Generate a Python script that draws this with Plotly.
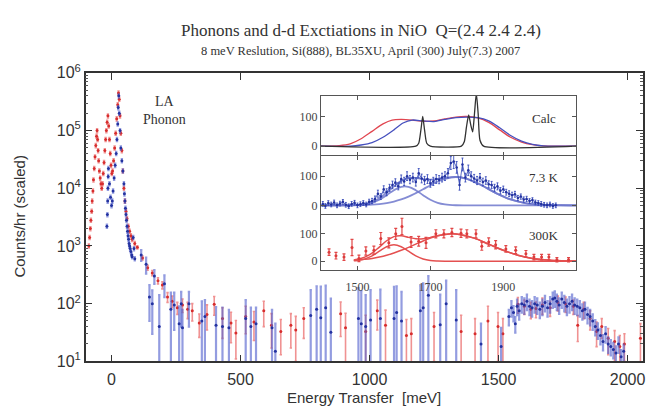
import plotly.graph_objects as go

# ---------------- main panel data (Energy transfer in meV, counts/hr) ----------------
red_peak_E = [-88,-85,-82,-80,-77,-75,-72,-70,-67,-64,-61,-58,-56,-54,-52,-50,-47,-44,-41,-38,-35,-32,-29,-26,-23,-20,-17,-14,-11,-8,-5,-2,1,4,8,12,16,20,24,27,30,33,36,40,44,48,52,56,60,65,70,75,80,90]
red_peak_I = [1000,1400,2000,2800,4000,6000,9000,14000,22000,35000,55000,80000,100000,70000,45000,30000,20000,15000,12000,10000,12000,18000,28000,45000,70000,100000,140000,180000,120000,70000,40000,25000,18000,20000,30000,50000,90000,160000,280000,450000,350000,180000,90000,45000,20000,10000,6000,4000,3000,2200,1800,1500,1300,1100]

red_tail_E = [100,120,140,158,180,197,217,235,255,275,295,313,340,370,398,430,463,482,520,552,590,620,656,695,714,745,888,907,985,1030,1062,1143,1162,1250,1355,1409,1459,1498,1517,1575,1600,1625,1645,1670,1700,1730,1760,1790,1807,1830,1855,1880,1900,1925,1950,1970,1988,2050]
red_tail_I = [950,620,420,340,250,210,130,110,85,95,80,75,46,65,98,55,46,31,60,48,75,42,33,42,35,55,67,38,33,75,42,28,30,40,33,30,50,40,30,98,90,80,82,95,85,105,100,90,42,80,55,33,40,25,22,18,20,25]
red_tail_err = [60,50,40,35,30,30,25,25,20,25,25,25,20,30,35,30,25,20,30,25,35,25,20,25,25,30,40,30,30,40,35,25,25,30,30,25,40,30,25,30,25,25,25,30,25,30,30,25,20,25,20,15,15,12,12,10,10,20]

blue_peak_E = [-18,-16,-15,-14,-13,-12,-8,-4,0,3,6,10,14,18,21,24,26,28,30,33,36,40,44,48,50,52,54,56,58,60,62,64,66,68,70,72,75,78,80,84,87,90]
blue_peak_I = [2200,3500,6000,10000,16000,22000,12000,7000,5000,6000,9000,15000,25000,40000,70000,130000,250000,400000,200000,100000,50000,30000,20000,12000,8000,6000,4500,3500,2800,2200,1800,1500,1300,1100,1000,900,800,700,650,1400,900,600]

blue_tail_E = [115,134,147,158,166,185,205,230,243,262,270,275,300,350,362,405,430,455,520,540,560,622,635,772,795,811,830,850,957,968,985,1004,1042,1095,1105,1124,1197,1208,1228,1274,1297,1336,1432,1510]
blue_tail_I = [700,480,130,100,300,40,220,80,95,45,100,38,100,50,60,42,40,38,55,40,45,38,15,62,80,57,85,32,55,45,40,52,55,55,70,50,75,85,140,43,100,52,20,18]
blue_tail_err = [150,150,80,70,80,100,90,75,60,45,60,40,60,60,55,45,45,40,60,45,40,40,30,110,120,140,120,90,130,120,100,120,120,140,130,110,130,140,160,100,150,120,25,20]

blue_hump_E = [1540,1550,1558,1565,1572,1580,1590,1600,1610,1620,1630,1640,1650,1660,1670,1680,1690,1700,1710,1718,1726,1735,1745,1755,1765,1775,1785,1795,1805,1815,1825,1835,1845,1855,1865,1875,1885,1895,1905,1915,1925,1935,1945,1955,1965,1975,1985]
blue_hump_I = [60,85,70,45,90,75,100,95,110,90,85,100,95,80,90,105,85,100,120,125,110,95,120,105,90,100,110,95,90,85,75,80,65,60,50,40,35,28,22,30,20,18,16,14,20,12,15]

main_xticks = [0, 500, 1000, 1500, 2000]
main_yticks = [10, 100, 1000, 10000, 100000, 1000000]
main_yticktext = ["10<sup>1</sup>", "10<sup>2</sup>", "10<sup>3</sup>", "10<sup>4</sup>", "10<sup>5</sup>", "10<sup>6</sup>"]

# ---------------- inset data ----------------
calc_red_E = [1400,1450,1480,1510,1540,1570,1595,1620,1650,1680,1710,1740,1770,1800,1830,1860,1890,1920,1950,1980,2010,2050,2100]
calc_red_I = [0,2,8,25,50,75,88,90,88,84,85,92,98,100,95,80,55,30,14,5,1,0,0]
calc_blue_E = [1400,1480,1510,1540,1570,1600,1625,1650,1680,1710,1740,1770,1800,1830,1860,1890,1920,1950,1980,2010,2050,2100]
calc_blue_I = [0,0,4,12,30,55,78,88,85,83,90,96,98,96,85,62,36,17,6,1,0,0]
calc_black_E = [1400,1660,1668,1674,1679,1684,1690,1700,1785,1793,1799,1805,1811,1816,1821,1826,1831,1836,1846,2100]
calc_black_I = [0,0,10,55,100,55,10,0,0,15,65,105,70,48,110,178,110,20,0,0]

k7_E = [1405,1412,1420,1428,1436,1444,1452,1460,1468,1476,
        1484,1492,1500,1508,1516,1524,1532,1540,1548,1556,
        1564,1572,1580,1588,1596,1604,1612,1620,1628,1636,
        1644,1652,1660,1668,1676,1684,1692,1700,1708,1716,
        1724,1732,1740,1748,1756,1764,1772,1780,1788,1796,
        1804,1812,1820,1828,1836,1844,1852,1860,1868,1876,
        1884,1892,1900,1908,1916,1924,1932,1940,1948,1956,
        1964,1972,1980,1988,1996,2004,2012,2020,2028,2036,2044]
k7_I = [5,-2,8,3,10,0,6,12,2,-3,
        5,9,0,4,8,3,12,15,22,40,
        30,55,45,60,70,78,65,90,82,100,
        88,95,80,110,92,85,90,75,82,90,
        88,95,100,110,145,150,130,70,140,95,
        120,100,92,85,95,80,85,72,70,60,
        65,50,55,45,40,35,38,25,30,20,
        22,15,18,10,8,5,2,0,3,-2,0]
k7_err = [8,8,8,8,8,8,8,8,8,8,
          8,8,8,8,8,8,9,9,10,12,
          10,12,12,12,13,13,12,14,14,15,
          14,15,14,16,15,14,15,13,14,15,
          14,15,15,16,22,24,20,18,22,15,
          18,15,14,14,14,13,13,12,12,12,
          12,11,11,10,10,10,10,9,9,9,
          9,8,8,8,8,8,8,8,8,8,8]

fit73_E = [1400,1500,1520,1540,1560,1580,1600,1620,1640,1660,1680,1700,1720,1740,1770,1800,1840,1880,1920,1960,2000,2040,2100]
fit73_g1 = [0,1,3.3,8.8,19.4,35,52,63.4,63.4,52,35,19.4,8.8,3.3,0.4,0,0,0,0,0,0,0,0]
fit73_g2 = [0,0.6,1.3,2.5,4.6,8,13.1,20.4,30,42,55,69,81.6,91,97,91,69,42,20.4,8,2.5,0.6,0]

k300_E = [1422,1441,1463,1485,1504,1523,1545,1564,1586,1605,1622,1647,1668,1688,1715,1737,1759,1784,1800,1825,1841,1860,1879,1907,1934,1962,1984,2005,2025,2047,2079]
k300_I = [33,20,15,50,10,37,40,83,67,100,127,70,73,67,100,100,105,102,100,100,55,70,60,45,40,27,15,15,15,5,5]
k300_err = [12,12,12,30,12,15,15,22,18,20,30,20,18,20,15,15,15,15,15,15,15,15,15,12,12,12,10,10,10,8,8]

fit300_E = [1490,1500,1520,1540,1560,1580,1600,1620,1640,1660,1680,1700,1720,1740,1760,1780,1820,1860,1900,1940,1980,2020,2060,2100]
fit300_g1 = [1.4,2.6,8.1,19.5,36.4,53,60,53,36.4,19.5,8.1,2.6,0.7,0,0,0,0,0,0,0,0,0,0,0]
fit300_g2 = [3.2,4.1,6.6,10.2,15.2,21.7,29.9,39.7,50.7,62.4,74,84.4,92.7,98,100,98,84.4,62.4,39.7,21.7,10.2,4.1,1.4,0.5]

inset_xticks = [1500, 1700, 1900]
inset_yticks = [0, 100]

# ---------------- styling ----------------
W, H = 649, 416
RED_PT = "rgb(215,45,45)"
RED_BAR = "rgba(235,110,110,0.75)"
BLUE_PT = "rgb(35,50,160)"
BLUE_BAR = "rgba(80,95,205,0.62)"
SANS = "Liberation Sans, Arial, sans-serif"
SERIF = "Liberation Serif, Times New Roman, serif"


def px_x(p):
    return p / W


def px_y(p):
    return 1 - p / H


fig = go.Figure()


def main_trace(E, I, color, barcolor, err=None, pct=None, thick=1.5):
    if err is not None:
        ey = dict(type="data", array=err, arrayminus=list(err), color=barcolor, thickness=thick, width=1.2)
    else:
        ey = dict(type="percent", value=pct, color=barcolor, thickness=thick, width=1.2)
    fig.add_trace(go.Scatter(x=E, y=I, mode="markers", xaxis="x", yaxis="y",
                             marker=dict(color=color, size=3), error_y=ey,
                             showlegend=False, hoverinfo="skip"))


main_trace(red_peak_E, red_peak_I, RED_PT, RED_BAR, pct=8)
main_trace(red_tail_E, red_tail_I, RED_PT, RED_BAR, err=red_tail_err, thick=1.6)
main_trace(blue_peak_E, blue_peak_I, BLUE_PT, BLUE_BAR, pct=8)
main_trace(blue_tail_E, blue_tail_I, BLUE_PT, BLUE_BAR, err=blue_tail_err, thick=2.2)
main_trace(blue_hump_E, blue_hump_I, BLUE_PT, BLUE_BAR, pct=30, thick=2.2)

# ---- inset: Calc ----
fig.add_trace(go.Scatter(x=calc_red_E, y=calc_red_I, mode="lines", xaxis="x2", yaxis="y2",
                         line=dict(color="rgb(225,70,80)", width=1.3, shape="spline", smoothing=0.8),
                         showlegend=False, hoverinfo="skip"))
fig.add_trace(go.Scatter(x=calc_blue_E, y=calc_blue_I, mode="lines", xaxis="x2", yaxis="y2",
                         line=dict(color="rgb(70,80,190)", width=1.3, shape="spline", smoothing=0.8),
                         showlegend=False, hoverinfo="skip"))
fig.add_trace(go.Scatter(x=calc_black_E, y=calc_black_I, mode="lines", xaxis="x2", yaxis="y2",
                         line=dict(color="rgb(50,50,50)", width=1.3, shape="spline", smoothing=0.6),
                         showlegend=False, hoverinfo="skip"))

# ---- inset: 7.3 K ----
fit73_sum = [a + b for a, b in zip(fit73_g1, fit73_g2)]
for ys in (fit73_g1, fit73_g2, fit73_sum):
    fig.add_trace(go.Scatter(x=fit73_E, y=ys, mode="lines", xaxis="x3", yaxis="y3",
                             line=dict(color="rgba(110,120,205,0.85)", width=1.8, shape="spline"),
                             showlegend=False, hoverinfo="skip"))
fig.add_trace(go.Scatter(x=k7_E, y=k7_I, mode="lines+markers", xaxis="x3", yaxis="y3",
                         line=dict(color="rgba(50,70,180,0.8)", width=1),
                         marker=dict(color=BLUE_PT, size=2.5),
                         error_y=dict(type="data", array=k7_err, color="rgba(50,70,185,0.85)", thickness=1, width=1),
                         showlegend=False, hoverinfo="skip"))

# ---- inset: 300 K ----
fit300_sum = [a + b for a, b in zip(fit300_g1, fit300_g2)]
for ys in (fit300_g1, fit300_g2, fit300_sum):
    fig.add_trace(go.Scatter(x=fit300_E, y=ys, mode="lines", xaxis="x4", yaxis="y4",
                             line=dict(color="rgb(228,80,80)", width=1.5, shape="spline"),
                             showlegend=False, hoverinfo="skip"))
fig.add_trace(go.Scatter(x=k300_E, y=k300_I, mode="markers", xaxis="x4", yaxis="y4",
                         marker=dict(color="rgb(220,60,60)", size=3),
                         error_y=dict(type="data", array=k300_err, color="rgb(225,70,70)", thickness=1.2, width=1.5),
                         showlegend=False, hoverinfo="skip"))

# ---------------- layout ----------------
AX_MAIN = dict(showline=True, linecolor="#333", linewidth=1.5, mirror="ticks", ticks="inside",
               ticklen=7, tickcolor="#333", showgrid=False, zeroline=False)
AX_IN = dict(showline=True, linecolor="#555", linewidth=1, mirror="ticks", ticks="inside",
             ticklen=4, tickcolor="#555", showgrid=False, zeroline=False)

inset_x = [px_x(322), px_x(578)]
panels = [(89, 152), (152, 214), (214, 272)]

layout = dict(
    width=W, height=H, autosize=False,
    margin=dict(l=0, r=0, t=0, b=0),
    paper_bgcolor="white", plot_bgcolor="white",
    showlegend=False,
    xaxis=dict(AX_MAIN, domain=[px_x(86), px_x(645)], range=[-100, 2060], anchor="y",
               tickvals=main_xticks, tickfont=dict(family=SANS, size=16, color="#333"),
               ticklabelstandoff=3),
    yaxis=dict(AX_MAIN, domain=[px_y(368), px_y(65)], type="log", range=[1, 6], anchor="x",
               tickvals=main_yticks, ticktext=main_yticktext,
               tickfont=dict(family=SANS, size=16, color="#333"),
               minor=dict(ticks="inside", ticklen=3, tickcolor="#555",
                          tickvals=[m * 10 ** k for k in range(1, 6) for m in range(2, 10)])),
)
for i, (top, bot) in enumerate(panels):
    n = i + 2
    last = (n == 4)
    layout[f"xaxis{n}"] = dict(AX_IN, domain=inset_x, range=[1400, 2100], anchor=f"y{n}",
                               tickvals=inset_xticks, showticklabels=last,
                               tickfont=dict(family=SERIF, size=12, color="#444"),
                               ticklabelstandoff=6)
    layout[f"yaxis{n}"] = dict(AX_IN, domain=[px_y(bot), px_y(top)], range=[-32, 170], anchor=f"x{n}",
                               tickvals=inset_yticks, tickfont=dict(family=SERIF, size=12, color="#444"))

fig.update_layout(**layout)

# white background for the inset, drawn within inset subplots (covers main data)
for n in (2, 3, 4):
    fig.add_shape(type="rect", xref=f"x{n}", yref=f"y{n}", x0=1400, x1=2100, y0=-32, y1=170,
                  fillcolor="white", line=dict(width=0), layer="below")

ann = [
    dict(text="Phonons and d-d Exctiations in NiO\u00a0\u00a0Q=(2.4 2.4 2.4)", x=px_x(362), y=px_y(20),
         font=dict(family=SERIF, size=17, color="#333")),
    dict(text="8 meV Reslution, Si(888), BL35XU, April (300) July(7.3) 2007", x=px_x(362), y=px_y(42),
         font=dict(family=SERIF, size=12.5, color="#333")),
    dict(text="LA<br>Phonon", x=px_x(165), y=px_y(105),
         font=dict(family=SERIF, size=14, color="#333")),
    dict(text="Energy Transfer\u00a0\u00a0[meV]", x=px_x(365), y=px_y(406),
         font=dict(family=SANS, size=15, color="#333")),
    dict(text="Counts/hr (scaled)", x=px_x(20), y=px_y(215), textangle=-90,
         font=dict(family=SANS, size=15, color="#333")),
    dict(text="Calc", x=px_x(546), y=px_y(113), font=dict(family=SERIF, size=13, color="#333")),
    dict(text="7.3 K", x=px_x(546), y=px_y(175), font=dict(family=SERIF, size=13, color="#333")),
    dict(text="300K", x=px_x(546), y=px_y(236), font=dict(family=SERIF, size=13, color="#333")),
]
for a in ann:
    fig.add_annotation(xref="paper", yref="paper", showarrow=False, xanchor="center", yanchor="middle", **a)

POST = (
    "var gd=document.getElementById('{plot_id}');"
    "document.documentElement.style.margin='0';document.body.style.margin='0';"
    "document.documentElement.style.overflow='hidden';document.body.style.overflow='hidden';"
    "gd.style.position='fixed';gd.style.left='0px';gd.style.top='0px';"
)
fig.write_html("out.html", config={"displayModeBar": False}, post_script=POST)
